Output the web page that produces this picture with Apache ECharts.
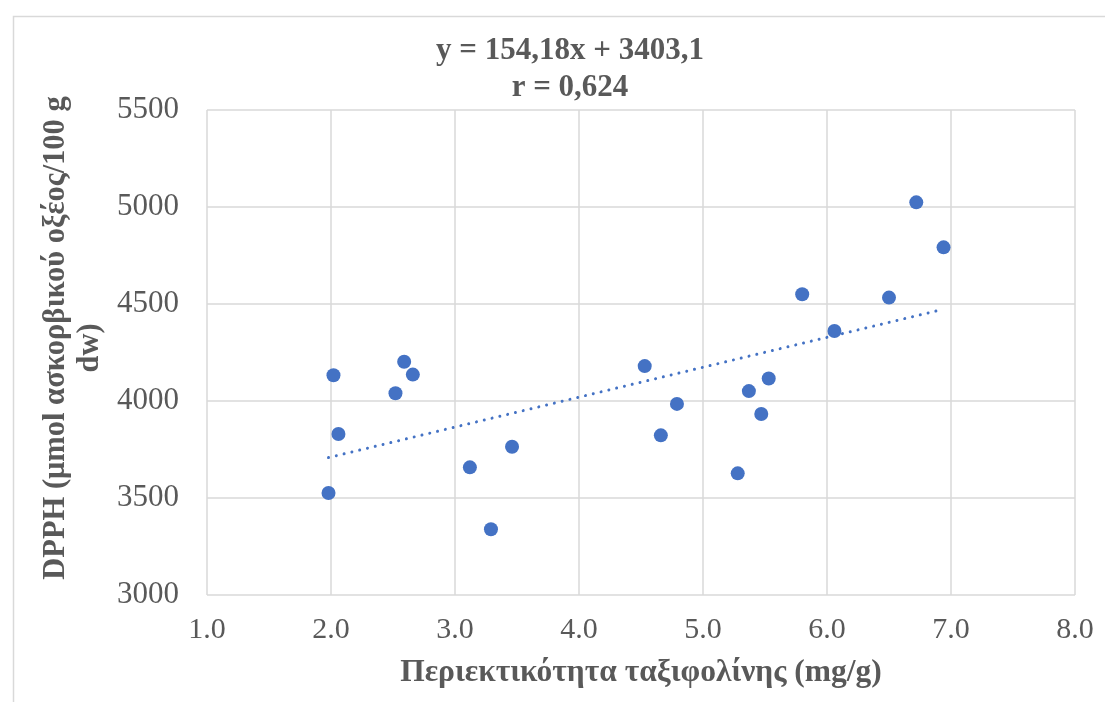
<!DOCTYPE html>
<html>
<head>
<meta charset="utf-8">
<script src="https://cdn.jsdelivr.net/npm/echarts@6/dist/echarts.min.js"></script>
<style>
html,body{margin:0;padding:0;background:#fff;}
#chart{width:1105px;height:702px;}
</style>
</head>
<body>
<div id="chart"></div>
<script>
// Taxifolin content (mg/g)
const xValues = [1.98, 2.02, 2.06, 2.52, 2.59, 2.66, 3.12, 3.29, 3.46, 4.53, 4.66, 4.79, 5.28, 5.37, 5.47, 5.53, 5.80, 6.06, 6.50, 6.72, 6.94];
// DPPH (μmol ascorbic acid / 100 g dw)
const yValues = [3526, 4133, 3830, 4040, 4202, 4136, 3658, 3339, 3764, 4180, 3823, 3985, 3627, 4051, 3933, 4116, 4550, 4361, 4533, 5024, 4792];
// Trendline from the chart's equation
const trendSlope = 154.18;
const trendIntercept = 3403.1;
const titleLines = ['y = 154,18x + 3403,1', 'r = 0,624'];
const xAxisTitle = 'Περιεκτικότητα ταξιφολίνης (mg/g)';
const yAxisTitleLines = ['DPPH (μmol ασκορβικού οξέος/100 g', 'dw)'];

const points = xValues.map((x, i) => [x, yValues[i]]);
const xMin = Math.min(...xValues), xMax = Math.max(...xValues);
const trend = [xMin, xMax].map(x => [x, trendSlope * x + trendIntercept]);

const textColor = '#595959';
const gridColor = '#d9d9d9';
const serif = '"Liberation Serif", "Times New Roman", serif';

const chart = echarts.init(document.getElementById('chart'));
chart.setOption({
  backgroundColor: '#fff',
  animation: false,
  graphic: [{
    type: 'rect',
    left: 11, top: 14,
    shape: {width: 1120, height: 720},
    style: {fill: 'none', stroke: gridColor, lineWidth: 1.5},
    silent: true
  }, {
    type: 'text',
    x: 56, y: 338,
    rotation: Math.PI / 2,
    style: {
      text: yAxisTitleLines[0],
      fill: textColor, textAlign: 'center', textVerticalAlign: 'middle',
      font: 'bold 30.5px ' + serif
    },
    silent: true
  }, {
    type: 'text',
    x: 90, y: 348,
    rotation: Math.PI / 2,
    style: {
      text: yAxisTitleLines[1],
      fill: textColor, textAlign: 'center', textVerticalAlign: 'middle',
      font: 'bold 30.5px ' + serif
    },
    silent: true
  }],
  title: {
    text: titleLines.join('\n'),
    left: 565, top: 27, textAlign: 'center',
    textStyle: {fontFamily: serif, fontWeight: 'bold', fontSize: 31, color: textColor, lineHeight: 37}
  },
  grid: {left: 207, right: 30, top: 110, bottom: 107},
  xAxis: {
    type: 'value', min: 1, max: 8, interval: 1,
    name: xAxisTitle, nameLocation: 'middle', nameGap: 62, nameMoveOverlap: false,
    nameTextStyle: {fontFamily: serif, fontWeight: 'bold', fontSize: 31.5, color: textColor},
    axisLine: {show: false}, axisTick: {show: false},
    axisLabel: {fontFamily: serif, fontSize: 30, color: textColor, margin: 20,
      formatter: v => v.toFixed(1)},
    splitLine: {show: true, lineStyle: {color: gridColor, width: 1.5}}
  },
  yAxis: {
    type: 'value', min: 3000, max: 5500, interval: 500,
    axisLine: {show: false}, axisTick: {show: false},
    axisLabel: {fontFamily: serif, fontSize: 31, color: textColor, margin: 28,
      formatter: v => String(v)},
    splitLine: {show: true, lineStyle: {color: gridColor, width: 1.5}}
  },
  series: [{
    type: 'line',
    data: trend,
    symbol: 'none',
    lineStyle: {color: '#4472C4', width: 3, type: [0.01, 8], cap: 'round'},
    z: 2
  }, {
    type: 'scatter',
    data: points,
    symbolSize: 14,
    itemStyle: {color: '#4472C4', opacity: 1},
    z: 3
  }]
});
</script>
</body>
</html>
